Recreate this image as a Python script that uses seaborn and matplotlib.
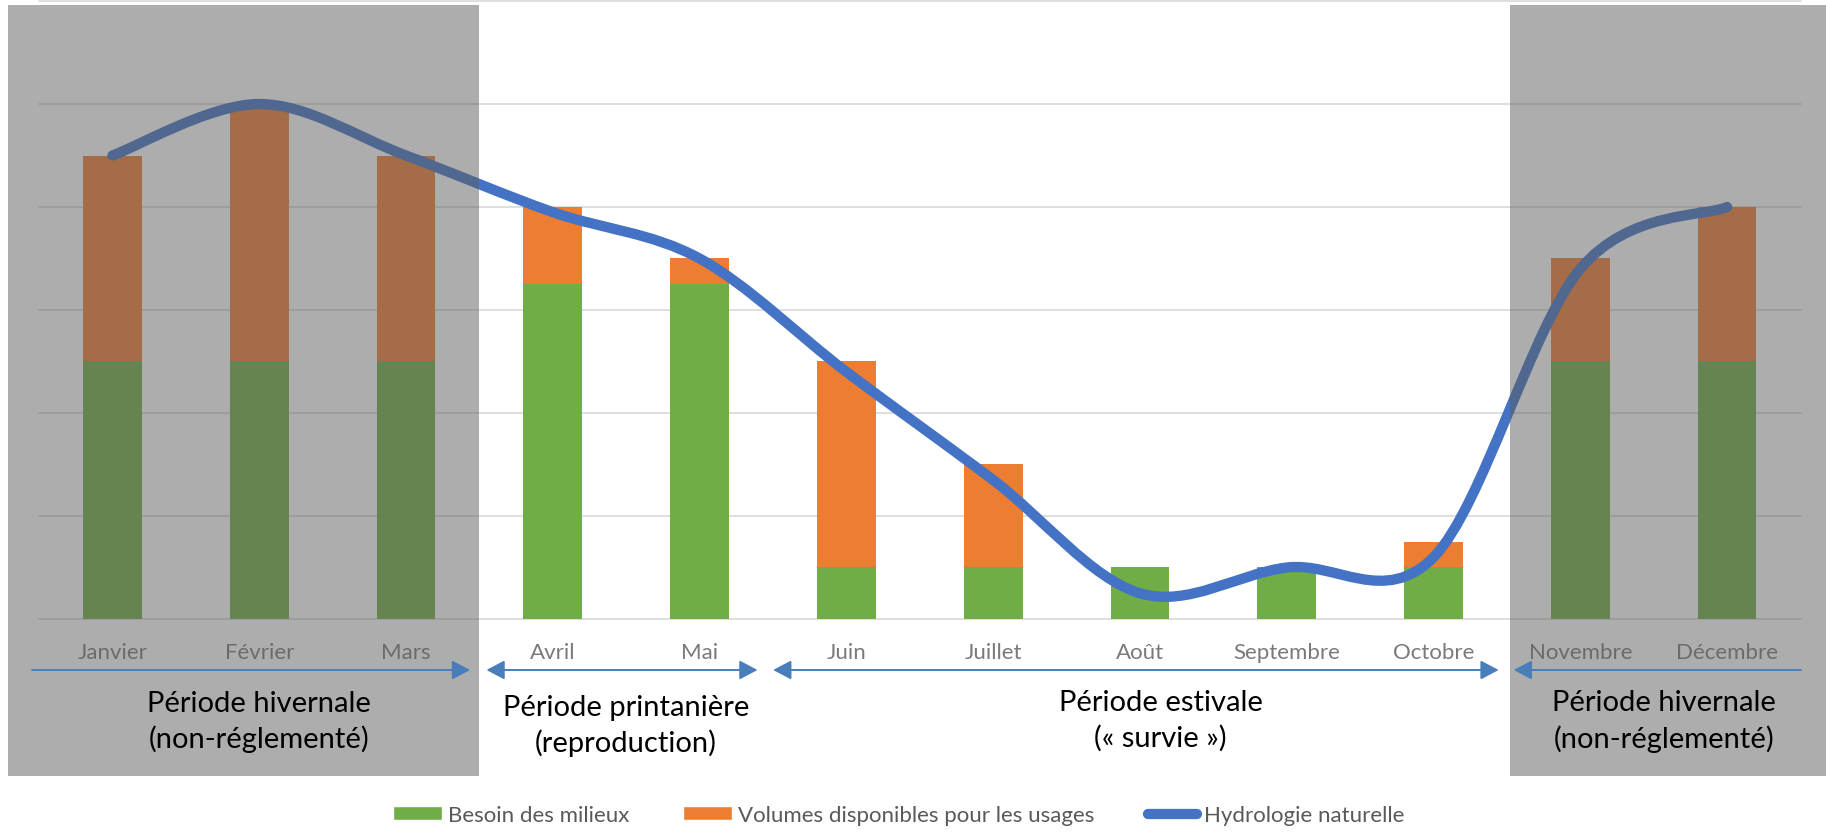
import numpy as np
import matplotlib
matplotlib.use("Agg")
import matplotlib.pyplot as plt
import seaborn as sns
from matplotlib.path import Path
from matplotlib.patches import PathPatch, Rectangle, Patch
from matplotlib.lines import Line2D
from matplotlib.transforms import blended_transform_factory

# data
mois = ["Janvier", "Février", "Mars", "Avril", "Mai", "Juin", "Juillet",
        "Août", "Septembre", "Octobre", "Novembre", "Décembre"]
besoin_milieux = [2.5, 2.5, 2.5, 3.25, 3.25, 0.5, 0.5, 0.5, 0.5, 0.5, 2.5, 2.5]
volumes_usages = [2.0, 2.5, 2.0, 0.75, 0.25, 2.0, 1.0, 0.0, 0.0, 0.25, 1.0, 1.5]
hydrologie = [4.5, 5.0, 4.5, 3.95, 3.5, 2.4, 1.35, 0.25, 0.5, 0.6, 3.4, 4.0]

periodes = ["Période hivernale\n(non-réglementé)",
            "Période printanière\n(reproduction)",
            "Période estivale\n(« survie »)",
            "Période hivernale\n(non-réglementé)"]

GREEN = "#70AD47"
ORANGE = "#ED7D31"
BLUE = "#4472C4"
ARROW = "#4A7EBB"

sns.set_style("white")
plt.rcParams["font.family"] = ["Lato", "DejaVu Sans"]

fig = plt.figure(figsize=(18.26, 8.37), dpi=100)
ax = fig.add_axes([0.02136, 0.25926, 0.96468, 0.73835])

total = np.array(besoin_milieux) + np.array(volumes_usages)
sns.barplot(x=mois, y=total, color=ORANGE, saturation=1, width=0.4,
            linewidth=0, ax=ax, zorder=2)
sns.barplot(x=mois, y=besoin_milieux, color=GREEN, saturation=1, width=0.4,
            linewidth=0, ax=ax, zorder=2)

# smoothed line (bezier through the monthly points, like excel)
xs = np.arange(len(hydrologie), dtype=float)
ys = np.array(hydrologie, dtype=float)
n = len(xs)
verts = [(xs[0], ys[0])]
codes = [Path.MOVETO]
for i in range(n - 1):
    p0 = np.array([xs[max(i - 1, 0)], ys[max(i - 1, 0)]])
    p1 = np.array([xs[i], ys[i]])
    p2 = np.array([xs[i + 1], ys[i + 1]])
    p3 = np.array([xs[min(i + 2, n - 1)], ys[min(i + 2, n - 1)]])
    c1 = p1 + (p2 - p0) / 6
    c2 = p2 - (p3 - p1) / 6
    verts += [tuple(c1), tuple(c2), tuple(p2)]
    codes += [Path.CURVE4] * 3
ax.add_patch(PathPatch(Path(verts, codes), fill=False, edgecolor=BLUE,
                       lw=7.4, capstyle="round", joinstyle="round", zorder=3))

ax.set_xlim(-0.5, 11.5)
ax.set_ylim(0, 6)
ax.set_yticks(range(7))
ax.set_yticklabels([])
ax.grid(axis="y", color="#D9D9D9", lw=1.2)
for gl in ax.get_ygridlines():
    gl.set_clip_on(False)
ax.set_axisbelow(True)
sns.despine(ax=ax, left=True, bottom=True)
ax.set_xlabel("")
ax.set_ylabel("")
ax.tick_params(axis="x", length=0, pad=16.5, labelsize=16, labelcolor="#7A7A7A")
ax.tick_params(axis="y", length=0)

# grey winter overlays
bt = blended_transform_factory(ax.transData, fig.transFigure)
for x0, x1 in [(-0.71, 2.5), (9.52, 11.75)]:
    ax.add_patch(Rectangle((x0, 1 - 777 / 837), x1 - x0, (777 - 6) / 837,
                           transform=bt, facecolor="#5D5D5D", alpha=0.5,
                           lw=0, clip_on=False, zorder=5))

# period arrows
y_arr = 1 - 671 / 837
arrows = [(-0.547, 2.437, "-|>"), (2.548, 4.395, "<|-|>"),
          (4.501, 9.444, "<|-|>"), (9.546, 11.503, "<|-")]
for xa, xb, style in arrows:
    ax.annotate("", xy=(xb, y_arr), xytext=(xa, y_arr), xycoords=bt,
                textcoords=bt, annotation_clip=False, zorder=6,
                arrowprops=dict(arrowstyle=f"{style},head_length=0.55,head_width=0.29",
                                mutation_scale=20, color=ARROW, lw=1.4,
                                shrinkA=0, shrinkB=0))

for xp, yp, txt in zip([1.0, 3.5, 7.14, 10.57],
                       [722, 726, 721, 721.5], periodes):
    ax.text(xp, 1 - yp / 837, txt, transform=bt, ha="center", va="center",
            fontsize=21, color="black", linespacing=1.4, zorder=7)

handles = [Patch(facecolor=GREEN, label="Besoin des milieux"),
           Patch(facecolor=ORANGE, label="Volumes disponibles pour les usages"),
           Line2D([], [], color=BLUE, lw=7.4, solid_capstyle="round",
                  label="Hydrologie naturelle")]
fig.legend(handles=handles, loc="center", bbox_to_anchor=(0.492, 1 - 816 / 837),
           ncol=3, frameon=False, fontsize=16, labelcolor="#595959",
           handlelength=2.2, handleheight=0.6, handletextpad=0.3,
           columnspacing=2.4)

fig.savefig("out.png", dpi=100)
